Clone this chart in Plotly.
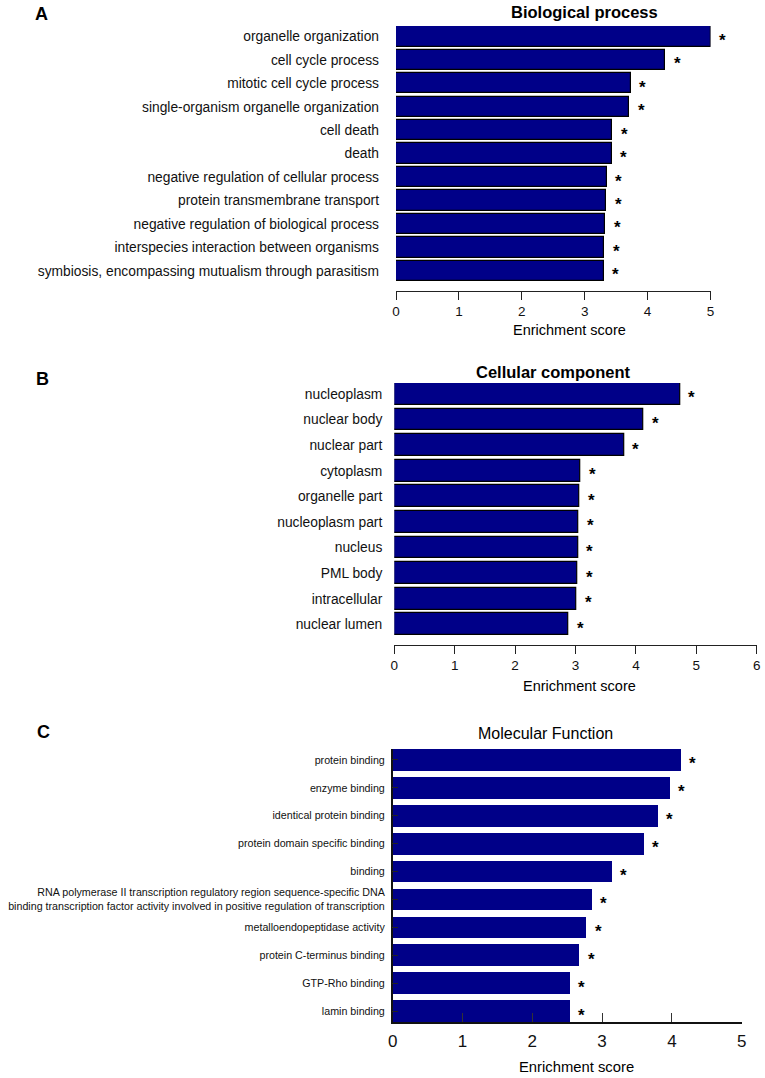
import plotly.graph_objects as go

W, H = 765, 1078

# ---------------- data ----------------
bp_terms = ["organelle organization", "cell cycle process", "mitotic cell cycle process",
            "single-organism organelle organization", "cell death", "death",
            "negative regulation of cellular process", "protein transmembrane transport",
            "negative regulation of biological process", "interspecies interaction between organisms",
            "symbiosis, encompassing mutualism through parasitism"]
bp_scores = [5.00, 4.28, 3.73, 3.71, 3.44, 3.43, 3.35, 3.34, 3.33, 3.31, 3.30]

cc_terms = ["nucleoplasm", "nuclear body", "nuclear part", "cytoplasm", "organelle part",
            "nucleoplasm part", "nucleus", "PML body", "intracellular", "nuclear lumen"]
cc_scores = [4.73, 4.13, 3.80, 3.08, 3.06, 3.05, 3.04, 3.03, 3.01, 2.88]

mf_terms = ["protein binding", "enzyme binding", "identical protein binding",
            "protein domain specific binding", "binding",
            "RNA polymerase II transcription regulatory region sequence-specific DNA<br>binding transcription factor activity involved in positive regulation of transcription",
            "metalloendopeptidase activity", "protein C-terminus binding", "GTP-Rho binding",
            "lamin binding"]
mf_scores = [4.12, 3.97, 3.79, 3.59, 3.14, 2.85, 2.77, 2.67, 2.53, 2.53]

sig_mark = "*"
bp_ticks = [0, 1, 2, 3, 4, 5]
cc_ticks = [0, 1, 2, 3, 4, 5, 6]
mf_ticks = [0, 1, 2, 3, 4, 5]

# ---------------- helpers ----------------
def fx(p):
    return p / W

def fy(p):
    return 1 - p / H

REG = "Liberation Sans, Arial, sans-serif"
NAVY = "#000088"

fig = go.Figure()

panels = [
    dict(scores=bp_scores, ax="", outline=True, width=0.87),
    dict(scores=cc_scores, ax="2", outline=True, width=0.85),
    dict(scores=mf_scores, ax="3", outline=False, width=0.778),
]

annotations = []
for p in panels:
    n = len(p["scores"])
    ypos = list(range(n))
    fig.add_trace(go.Bar(
        x=p["scores"], y=ypos, orientation="h", width=p["width"],
        marker=dict(color=NAVY,
                    line=dict(color="#000000" if p["outline"] else NAVY,
                              width=1.2 if p["outline"] else 0)),
        xaxis="x" + p["ax"], yaxis="y" + p["ax"], showlegend=False,
        hoverinfo="x",
    ))
    for j, s in enumerate(p["scores"]):
        annotations.append(dict(
            x=s, y=j, xref="x" + p["ax"], yref="y" + p["ax"], text="<b>" + sig_mark + "</b>",
            showarrow=False, xanchor="center", yanchor="middle",
            xshift=12, yshift=-4,
            font=dict(family=REG, size=17, color="black"),
        ))

common = dict(automargin=False, showgrid=False, zeroline=False, fixedrange=True)

lay = {}
# Panel A
lay["xaxis"] = dict(domain=[fx(396), fx(710.5)], range=[0, 5], anchor="y",
                    showline=True, linecolor="#222", linewidth=1.3, ticks="outside",
                    ticklen=8, tickwidth=1.3, tickcolor="#222", tickvals=bp_ticks,
                    tickfont=dict(family=REG, size=13.5, color="#111"), **common)
lay["yaxis"] = dict(domain=[fy(291), fy(26)], range=[len(bp_terms) - 1 + 0.856, -0.44],
                    anchor="x", tickvals=list(range(len(bp_terms))), ticktext=bp_terms,
                    ticks="", ticklabelstandoff=16, showline=False,
                    tickfont=dict(family=REG, size=13.8, color="#111"), **common)
# Panel B
lay["xaxis2"] = dict(domain=[fx(394.3), fx(756.7)], range=[0, 6], anchor="y2",
                     showline=True, linecolor="#222", linewidth=1.3, ticks="outside",
                     ticklen=8, tickwidth=1.3, tickcolor="#222", tickvals=cc_ticks,
                     tickfont=dict(family=REG, size=13.5, color="#111"), **common)
lay["yaxis2"] = dict(domain=[fy(645), fy(383)], range=[len(cc_terms) - 1 + 0.81, -0.43],
                     anchor="x2", tickvals=list(range(len(cc_terms))), ticktext=cc_terms,
                     ticks="", ticklabelstandoff=11, showline=False,
                     tickfont=dict(family=REG, size=13.8, color="#111"), **common)
# Panel C
lay["xaxis3"] = dict(domain=[fx(392.7), fx(741.7)], range=[0, 5], anchor="y3",
                     showline=True, linecolor="#111", linewidth=2, ticks="inside",
                     ticklen=9, tickwidth=1.3, tickcolor="#333", tickvals=mf_ticks,
                     tickfont=dict(family=REG, size=17, color="#111"),
                     ticklabelstandoff=3, **common)
lay["yaxis3"] = dict(domain=[fy(1022), fy(749)], range=[len(mf_terms) - 1 + 0.389, -0.39],
                     anchor="x3", tickvals=list(range(len(mf_terms))), ticktext=mf_terms,
                     ticks="inside", ticklen=6, tickwidth=1, tickcolor="#222",
                     ticklabelstandoff=4, showline=True, linecolor="#111", linewidth=1.5,
                     tickfont=dict(family=REG, size=10.7, color="#111"), **common)

def txt(x, y, s, size, bold=False):
    return dict(x=fx(x), y=fy(y), xref="paper", yref="paper",
                text=(f"<b>{s}</b>" if bold else s),
                showarrow=False, xanchor="center", yanchor="middle",
                font=dict(family=REG, size=size, color="black"))

annotations += [
    txt(41, 14, "A", 18, True),
    txt(42, 379, "B", 18, True),
    txt(43, 732, "C", 18, True),
    txt(584, 12, "Biological process", 16.5, True),
    txt(553.7, 372, "Cellular component", 16.5, True),
    txt(545, 733, "Molecular Function", 16),
    txt(569, 330, "Enrichment score", 14.5),
    txt(579, 686, "Enrichment score", 14.5),
    txt(576, 1067, "Enrichment score", 14.8),
]

fig.update_layout(
    width=W, height=H, margin=dict(l=0, r=0, t=0, b=0, autoexpand=False),
    paper_bgcolor="white", plot_bgcolor="white", bargap=0,
    annotations=annotations, **lay,
)

fig.write_html("out.html", config={"displayModeBar": False},
               post_script="document.body.style.margin='0px';document.body.style.overflow='hidden';")
